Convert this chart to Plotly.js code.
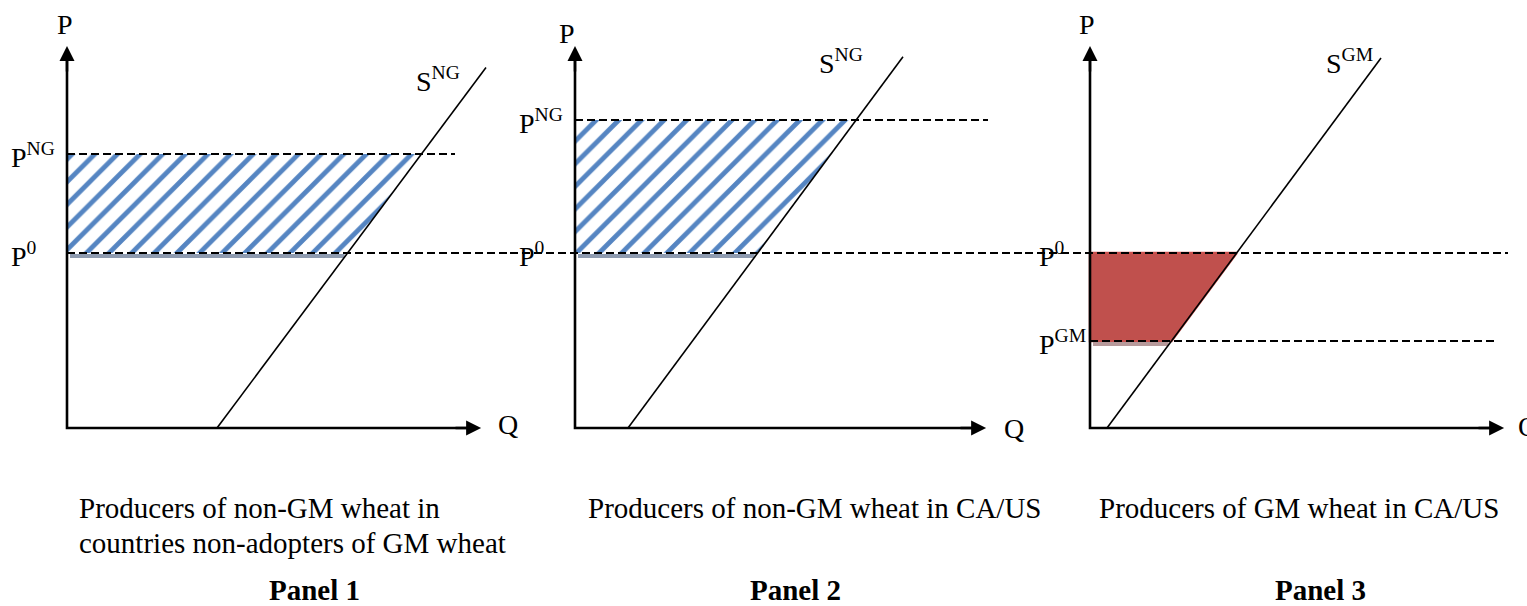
<!DOCTYPE html>
<html><head><meta charset="utf-8">
<script src="https://cdn.plot.ly/plotly-3.0.1.min.js"></script>
<style>html,body{margin:0;padding:0;background:#fff;}#chart{width:1527px;height:606px;}</style>
</head><body><div id="chart"></div>
<script>
// ---------- data (abstract price / quantity units) ----------
const panelTitles   = ['Panel 1', 'Panel 2', 'Panel 3'];
const captionLine1  = ['Producers of non-GM wheat in', 'Producers of non-GM wheat in CA/US', 'Producers of GM wheat in CA/US'];
const captionLine2  = ['countries non-adopters of GM wheat', '', ''];
const supplyNames   = ['S<sup>NG</sup>', 'S<sup>NG</sup>', 'S<sup>GM</sup>'];
const supplyQ0      = [15.0, 5.3, 1.7];      // quantity where supply meets P = 0
const supplySlope   = [1.34, 1.35, 1.35];    // dP/dQ
const supplyQEnd    = [41.9, 32.8, 29.1];    // upper end of supply curve
const basePrice     = [17.5, 17.5, 17.5];    // P0
const newPrice      = [27.4, 30.8, 8.7];     // PNG, PNG, PGM
const newPriceNames = ['P<sup>NG</sup>', 'P<sup>NG</sup>', 'P<sup>GM</sup>'];
const basePriceName = 'P<sup>0</sup>';
const newPriceLineEnd = [38.8, 41.3, 40.8];
const baseLineStart = [0, -6.5, -6.5];
const baseLineEnd   = [44.3, 45.0, 41.8];
const axisQMax      = [41.8, 41.5, 41.8];
const axisPMax      = 38.6;

// ---------- layout configuration ----------
const W = 1527, H = 606, PX = 10;           // pixels per unit
const panelDomPx = [[0, 540], [490, 1040], [1010, 1527]];
const originPx   = [67, 575, 1090];
const yDomPx = [0, 480], originY = 428;
const FONT = 'Liberation Serif, Times New Roman, serif';
const labelPos = {
  priceLabelQ: [-5.7, -5.7, -5.2],
  sLabel: [[34.8, 34.9], [24.3, 36.7], [23.5, 36.7]],
  pLabel: [[-0.2, 40.4], [-0.8, 39.5], [-0.3, 40.4]],
  qLabel: [[43.0, 0.4], [42.8, 0.0], [42.7, 0.2]],
  caption1: [[78, 508], [587, 508], [1098, 508]],
  caption2: [[78, 543]],
  titleX: [314, 796, 1320], titleY: 590
};

const qs = (i, p) => supplyQ0[i] + p / supplySlope[i];
const traces = [];
const annotations = [];
const layout = {
  width: W, height: H, margin: {l: 0, r: 0, t: 0, b: 0},
  paper_bgcolor: '#ffffff', plot_bgcolor: 'rgba(0,0,0,0)', showlegend: false,
  annotations: annotations
};

for (let i = 0; i < 3; i++) {
  const s = i === 0 ? '' : String(i + 1);
  const xa = 'x' + s, ya = 'y' + s;
  const d = panelDomPx[i];
  layout['xaxis' + s] = {domain: [d[0] / W, d[1] / W], range: [(d[0] - originPx[i]) / PX, (d[1] - originPx[i]) / PX],
    visible: false, fixedrange: true, anchor: ya};
  layout['yaxis' + s] = {domain: [1 - yDomPx[1] / H, 1 - yDomPx[0] / H], range: [(originY - yDomPx[1]) / PX, (originY - yDomPx[0]) / PX],
    visible: false, fixedrange: true, anchor: xa};

  const p0 = basePrice[i], p1 = newPrice[i];
  const hi = Math.max(p0, p1), lo = Math.min(p0, p1);
  // surplus area
  const area = {x: [0, qs(i, hi), qs(i, lo), 0, 0], y: [hi, hi, lo, lo, hi], xaxis: xa, yaxis: ya,
    type: 'scatter', mode: 'lines', fill: 'toself', hoverinfo: 'skip'};
  if (p1 > p0) {
    area.line = {width: 0, color: 'rgba(0,0,0,0)'};
    area.fillcolor = 'rgba(255,255,255,0)';
    area.fillpattern = {shape: '/', fgcolor: '#5585c2', bgcolor: 'rgba(255,255,255,0)', size: 16, solidity: 0.3};
  } else {
    area.line = {width: 2.5, color: '#c9504d'};
    area.fillcolor = '#c0504d';
  }
  traces.push(area);
  // shadow line under the area
  traces.push({x: [0.3, qs(i, lo) - 0.3], y: [lo - 0.3, lo - 0.3], xaxis: xa, yaxis: ya, type: 'scatter', mode: 'lines',
    line: {width: 4, color: p1 > p0 ? '#8e9bb0' : '#b79a9b'}, hoverinfo: 'skip'});
  // dashed price lines
  traces.push({x: [0, newPriceLineEnd[i]], y: [p1, p1], xaxis: xa, yaxis: ya, type: 'scatter', mode: 'lines',
    line: {width: 1.8, color: '#000', dash: '8px,4px'}, hoverinfo: 'skip'});
  traces.push({x: [baseLineStart[i], baseLineEnd[i]], y: [p0, p0], xaxis: xa, yaxis: ya, type: 'scatter', mode: 'lines',
    line: {width: 1.8, color: '#000', dash: '8px,4px'}, hoverinfo: 'skip'});
  // supply curve
  traces.push({x: [supplyQ0[i], supplyQEnd[i]], y: [0, supplySlope[i] * (supplyQEnd[i] - supplyQ0[i])], xaxis: xa, yaxis: ya,
    type: 'scatter', mode: 'lines', line: {width: 1.6, color: '#000'}, hoverinfo: 'skip'});
  // axes
  traces.push({x: [axisQMax[i] - 1.0, 0, 0], y: [0, 0, axisPMax - 1.0], xaxis: xa, yaxis: ya, type: 'scatter', mode: 'lines',
    line: {width: 2.6, color: '#000'}, hoverinfo: 'skip'});
  const arrow = {xref: xa, yref: ya, axref: xa, ayref: ya, text: '', showarrow: true, arrowhead: 2, arrowsize: 1.2,
    arrowwidth: 2.5, arrowcolor: '#000', standoff: 0, startstandoff: 0, font: {size: 1}, borderpad: 0};
  annotations.push(Object.assign({}, arrow, {x: axisQMax[i] - 0.39, y: 0, ax: axisQMax[i] - 3, ay: 0}));
  annotations.push(Object.assign({}, arrow, {x: 0, y: axisPMax - 0.39, ax: 0, ay: axisPMax - 3}));

  const txt = (x, y, text, extra) => Object.assign({xref: xa, yref: ya, x: x, y: y, text: text, showarrow: false,
    font: {family: FONT, size: 28, color: '#000'}, xanchor: 'left', yanchor: 'middle', borderpad: 0}, extra || {});
  annotations.push(txt(labelPos.pLabel[i][0], labelPos.pLabel[i][1], 'P', {xanchor: 'center'}));
  annotations.push(txt(labelPos.qLabel[i][0], labelPos.qLabel[i][1], 'Q'));
  annotations.push(txt(labelPos.priceLabelQ[i], p1, newPriceNames[i], {yshift: -1}));
  annotations.push(txt(labelPos.priceLabelQ[i], p0, basePriceName, {yshift: -1}));
  annotations.push(txt(labelPos.sLabel[i][0], labelPos.sLabel[i][1], supplyNames[i]));

  const ptxt = (px, py, text, extra) => Object.assign({xref: 'paper', yref: 'paper', x: px / W, y: 1 - py / H, text: text,
    showarrow: false, font: {family: FONT, size: 29, color: '#000'}, xanchor: 'left', yanchor: 'middle', borderpad: 0}, extra || {});
  annotations.push(ptxt(labelPos.caption1[i][0], labelPos.caption1[i][1], captionLine1[i]));
  if (captionLine2[i]) annotations.push(ptxt(labelPos.caption2[i][0], labelPos.caption2[i][1], captionLine2[i]));
  annotations.push(ptxt(labelPos.titleX[i], labelPos.titleY, '<b>' + panelTitles[i] + '</b>', {xanchor: 'center'}));
}

Plotly.newPlot('chart', traces, layout, {staticPlot: true, displayModeBar: false});
</script></body></html>
